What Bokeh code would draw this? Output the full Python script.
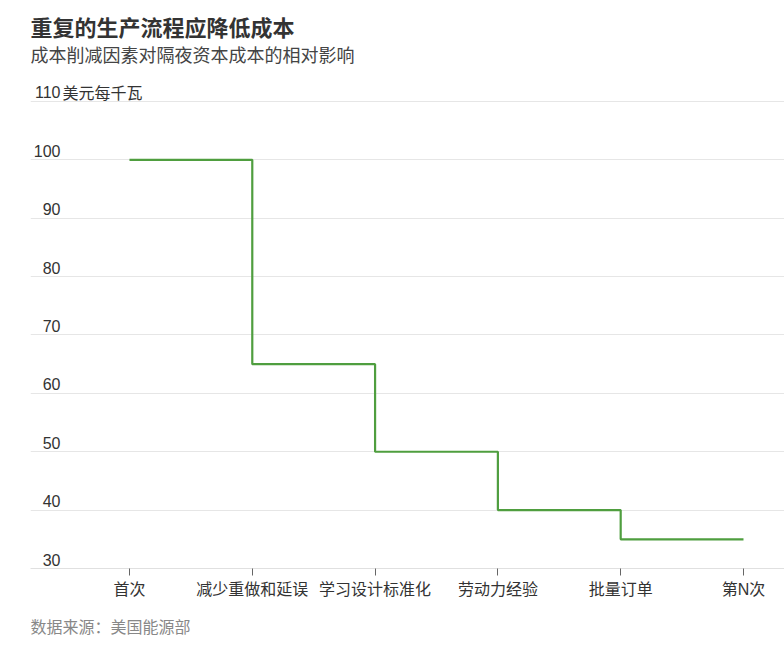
from bokeh.plotting import figure
from bokeh.models import Range1d, FixedTicker, Label, ColumnDataSource, Title
from bokeh.core.properties import value
from bokeh.embed import file_html
from bokeh.resources import INLINE

# ---- data ----
categories = ["首次", "减少重做和延误", "学习设计标准化", "劳动力经验", "批量订单", "第N次"]
costs = [100, 65, 50, 40, 35, 35]
y_ticks = [30, 40, 50, 60, 70, 80, 90, 100, 110]
y_tick_labels = ["30", "40", "50", "60", "70", "80", "90", "100", "110"]
unit_label = "美元每千瓦"
title_text = "重复的生产流程应降低成本"
subtitle_text = "成本削减因素对隔夜资本成本的相对影响"
source_text = "数据来源：美国能源部"

FONT = "Liberation Sans, Noto Sans CJK SC"
TEXT = "#333333"
GREEN = "#4f9e3f"

xs = list(range(len(categories)))
x_start, x_end = -0.806, 5.334
y_start, y_end = 30, 127.3

p = figure(width=784, height=653, output_backend="svg", toolbar_location=None,
           x_range=Range1d(x_start, x_end), y_range=Range1d(y_start, y_end),
           y_axis_location=None, min_border_left=30, min_border_right=0,
           min_border_top=0, min_border_bottom=85)
p.outline_line_color = None
p.background_fill_color = "white"
p.border_fill_color = "white"

p.xgrid.grid_line_color = None
p.ygrid.ticker = FixedTicker(ticks=y_ticks)
p.ygrid.grid_line_color = "#e6e6e6"
p.ygrid.grid_line_width = 1

xa = p.xaxis[0]
xa.ticker = FixedTicker(ticks=xs)
xa.major_label_overrides = {i: c for i, c in zip(xs, categories)}
xa.axis_line_color = "#e0e0e0"
xa.major_tick_line_color = "#666666"
xa.major_tick_out = 7
xa.major_tick_in = 0
xa.minor_tick_line_color = None
xa.major_label_text_font = FONT
xa.major_label_text_font_size = "16px"
xa.major_label_text_color = TEXT
xa.major_label_standoff = 5

p.step(xs, costs, mode="after", line_color=GREEN, line_width=2.2)

tick_src = ColumnDataSource(dict(x=[x_start] * len(y_ticks), y=y_ticks, t=y_tick_labels))
p.text(x="x", y="y", text="t", source=tick_src, x_offset=30, y_offset=-9,
       text_align="right", text_baseline="middle",
       text_font=value(FONT), text_font_size="16px", text_color=TEXT)

p.add_layout(Label(x=x_start, y=y_ticks[-1], text=unit_label, x_offset=32, y_offset=8,
                   text_align="left", text_baseline="middle",
                   text_font=FONT, text_font_size="16px", text_color=TEXT))

p.add_layout(Label(x=0, y=540, x_units="screen", y_units="screen", text=title_text,
                   text_align="left", text_baseline="middle", text_font=FONT,
                   text_font_size="22px", text_font_style="bold", text_color="#333333"))
p.add_layout(Label(x=0, y=513, x_units="screen", y_units="screen", text=subtitle_text,
                   text_align="left", text_baseline="middle", text_font=FONT,
                   text_font_size="18px", text_color="#444444"))
p.add_layout(Title(text=source_text, align="left", text_font=FONT,
                   text_font_size="16px", text_font_style="normal",
                   text_color="#888888", standoff=33), "below")

open("out.html", "w").write(file_html(p, INLINE))
